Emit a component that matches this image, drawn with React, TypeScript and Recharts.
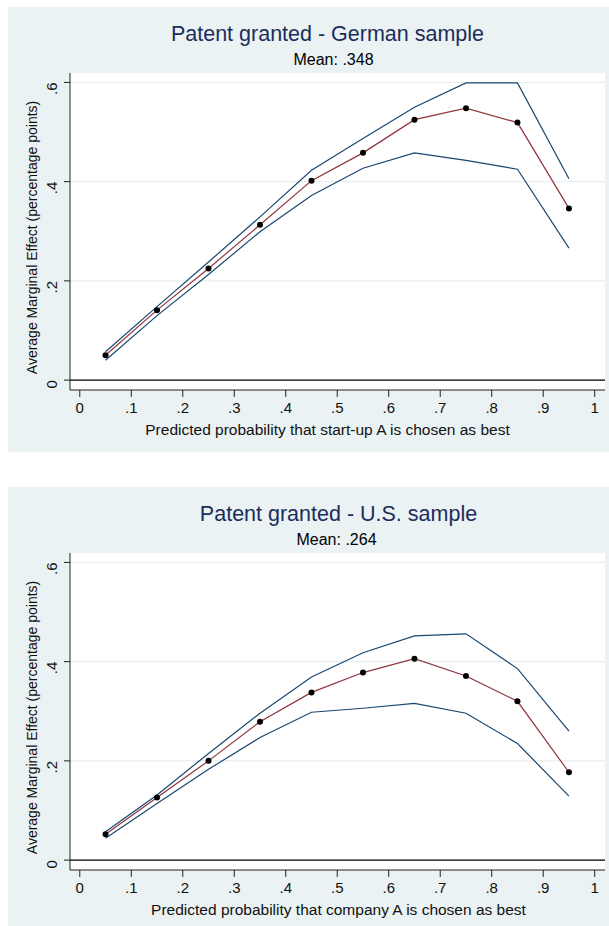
import React from "react";
import {
  LineChart,
  Line,
  XAxis,
  YAxis,
  CartesianGrid,
  ReferenceLine,
} from "recharts";

// predicted probability bins (midpoints)
const bins = [0.05, 0.15, 0.25, 0.35, 0.45, 0.55, 0.65, 0.75, 0.85, 0.95];
const xTicks = [0, 0.1, 0.2, 0.3, 0.4, 0.5, 0.6, 0.7, 0.8, 0.9, 1];
const yTicks = [0, 0.2, 0.4, 0.6];

// German sample
const deEffect = [0.05, 0.141, 0.225, 0.313, 0.402, 0.458, 0.525, 0.548, 0.519, 0.346];
const deUpper = [0.057, 0.148, 0.238, 0.329, 0.423, 0.487, 0.55, 0.599, 0.599, 0.406];
const deLower = [0.04, 0.13, 0.213, 0.299, 0.372, 0.427, 0.458, 0.443, 0.425, 0.266];

// U.S. sample
const usEffect = [0.052, 0.126, 0.2, 0.279, 0.338, 0.378, 0.406, 0.371, 0.32, 0.177];
const usUpper = [0.057, 0.131, 0.215, 0.296, 0.369, 0.418, 0.452, 0.456, 0.386, 0.26];
const usLower = [0.044, 0.114, 0.183, 0.247, 0.298, 0.306, 0.316, 0.296, 0.235, 0.129];

const FONT = "'Liberation Sans', Arial, sans-serif";
const PANEL_W = 601;
const PANEL_H = 445;

const fmt = (v: number) => {
  if (v === 0) return "0";
  if (v === 1) return "1";
  return String(v).replace(/^0/, "");
};

interface PanelProps {
  top: number;
  title: string;
  subtitle: string;
  xLabel: string;
  titleShift: number;
  subShift: number;
  xLabelShift: number;
  effect: number[];
  upper: number[];
  lower: number[];
}

const Panel: React.FC<PanelProps> = ({
  top,
  title,
  subtitle,
  xLabel,
  titleShift,
  subShift,
  xLabelShift,
  effect,
  upper,
  lower,
}) => {
  const data = bins.map((x, i) => ({
    x,
    effect: effect[i],
    upper: upper[i],
    lower: lower[i],
  }));

  return (
    <div
      style={{
        position: "absolute",
        left: 8,
        top,
        width: PANEL_W,
        height: PANEL_H,
        background: "#eaf2f3",
        fontFamily: FONT,
      }}
    >
      <div
        style={{
          position: "absolute",
          left: titleShift,
          width: PANEL_W,
          top: 15,
          textAlign: "center",
          fontSize: 21.5,
          color: "#1c2d5c",
          lineHeight: "24px",
          whiteSpace: "nowrap",
        }}
      >
        {title}
      </div>
      <div
        style={{
          position: "absolute",
          left: subShift,
          width: PANEL_W,
          top: 44,
          textAlign: "center",
          fontSize: 16,
          color: "#000",
          lineHeight: "18px",
          whiteSpace: "nowrap",
        }}
      >
        {subtitle}
      </div>
      <div style={{ position: "absolute", left: 0, top: 0 }}>
        <LineChart
          width={PANEL_W}
          height={PANEL_H}
          data={data}
          margin={{ top: 66, right: 4, left: 0, bottom: 0 }}
        >
          <CartesianGrid
            vertical={false}
            horizontalValues={yTicks}
            stroke="#e3ecee"
            fill="#ffffff"
          />
          <XAxis
            dataKey="x"
            type="number"
            domain={[-0.019, 1.02]}
            ticks={xTicks}
            tickFormatter={fmt}
            height={62}
            stroke="#222"
            tickLine={{ stroke: "#222" }}
            tickSize={7}
            tickMargin={5}
            tick={{ fill: "#111", fontSize: 15, fontFamily: FONT }}
            label={{
              value: xLabel,
              position: "insideTop",
              offset: 34,
              dx: xLabelShift,
              fill: "#111",
              fontSize: 15.5,
              fontFamily: FONT,
            }}
          />
          <YAxis
            type="number"
            domain={[-0.02, 0.619]}
            ticks={yTicks}
            tickFormatter={fmt}
            width={62}
            stroke="#222"
            tickLine={{ stroke: "#222" }}
            tickSize={6}
            tick={{ fill: "#111", fontSize: 15, fontFamily: FONT, angle: -90, dx: -10 }}
            label={{
              value: "Average Marginal Effect (percentage points)",
              angle: -90,
              position: "insideLeft",
              offset: 24,
              dy: 6,
              fill: "#111",
              fontSize: 14,
              fontFamily: FONT,
              style: { textAnchor: "middle" },
            }}
          />
          <ReferenceLine y={0} stroke="#000" strokeWidth={1.2} />
          <Line
            dataKey="upper"
            stroke="#1a476f"
            strokeWidth={1.2}
            dot={false}
            isAnimationActive={false}
          />
          <Line
            dataKey="lower"
            stroke="#1a476f"
            strokeWidth={1.2}
            dot={false}
            isAnimationActive={false}
          />
          <Line
            dataKey="effect"
            stroke="#90353b"
            strokeWidth={1.2}
            dot={{ r: 3, fill: "#000", stroke: "#000", strokeWidth: 0 }}
            isAnimationActive={false}
          />
        </LineChart>
      </div>
    </div>
  );
};

export default function App() {
  return (
    <div style={{ position: "absolute", left: 0, top: 0, width: 609, height: 926 }}>
      <Panel
        top={7}
        title="Patent granted - German sample"
        subtitle="Mean: .348"
        xLabel="Predicted probability that start-up A is chosen as best"
        titleShift={19}
        subShift={25}
        xLabelShift={-10}
        effect={deEffect}
        upper={deUpper}
        lower={deLower}
      />
      <Panel
        top={487}
        title="Patent granted - U.S. sample"
        subtitle="Mean: .264"
        xLabel="Predicted probability that company A is chosen as best"
        titleShift={30}
        subShift={28}
        xLabelShift={1}
        effect={usEffect}
        upper={usUpper}
        lower={usLower}
      />
    </div>
  );
}
